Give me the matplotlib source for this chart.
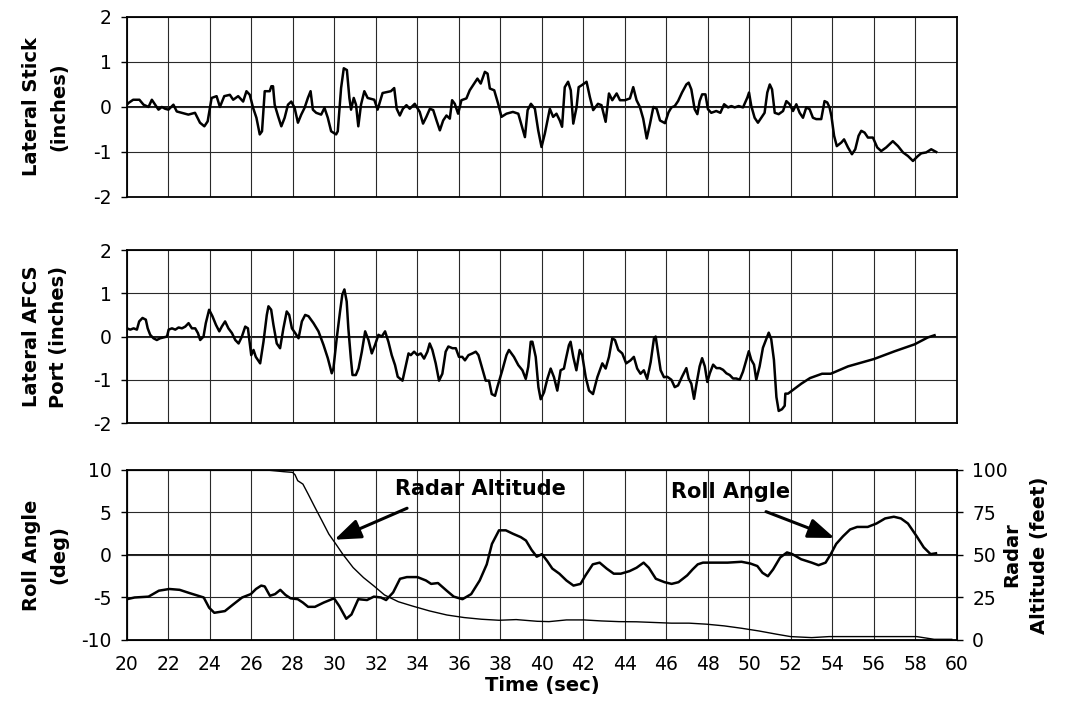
import numpy as np
import matplotlib.pyplot as plt

# lateral stick (inches)
stick_t = [20.0, 20.08, 20.3, 20.6, 20.8, 21.04, 21.2, 21.36, 21.52, 21.68, 21.84, 22.0, 22.24, 22.4,
           22.64, 22.96, 23.28, 23.52, 23.73, 23.89, 24.08, 24.32, 24.48, 24.69, 24.96, 25.12, 25.36,
           25.6, 25.76, 25.92, 26.08, 26.24, 26.4, 26.51, 26.64, 26.88, 26.96, 27.04, 27.12, 27.28,
           27.44, 27.6, 27.76, 27.92, 28.08, 28.24, 28.4, 28.56, 28.72, 28.85, 28.96, 29.12, 29.36,
           29.52, 29.68, 29.84, 30.08, 30.16, 30.32, 30.45, 30.6, 30.72, 30.8, 30.93, 31.04, 31.15,
           31.28, 31.44, 31.6, 31.92, 32.08, 32.32, 32.72, 32.88, 33.0, 33.15, 33.3, 33.47, 33.63,
           33.87, 34.11, 34.27, 34.43, 34.6, 34.76, 34.92, 35.08, 35.24, 35.4, 35.56, 35.67, 35.8,
           35.96, 36.12, 36.36, 36.52, 36.73, 36.89, 37.05, 37.25, 37.38, 37.49, 37.7, 37.89, 38.05,
           38.29, 38.6, 38.86, 39.02, 39.18, 39.31, 39.47, 39.66, 39.82, 39.98, 40.14, 40.38, 40.54,
           40.7, 40.86, 40.97, 41.1, 41.26, 41.39, 41.51, 41.67, 41.77, 41.91, 42.15, 42.31, 42.47,
           42.7, 42.87, 43.07, 43.23, 43.39, 43.6, 43.76, 44.0, 44.24, 44.4, 44.56, 44.72, 44.88,
           45.05, 45.21, 45.37, 45.53, 45.69, 45.93, 46.1, 46.24, 46.4, 46.56, 46.75, 46.96, 47.07,
           47.2, 47.36, 47.49, 47.6, 47.72, 47.88, 48.0, 48.16, 48.4, 48.6, 48.78, 48.97, 49.13,
           49.29, 49.48, 49.69, 49.9, 49.98, 50.09, 50.25, 50.41, 50.57, 50.73, 50.86, 50.98, 51.09,
           51.22, 51.41, 51.62, 51.78, 51.94, 52.1, 52.26, 52.42, 52.58, 52.74, 52.9, 53.06, 53.22,
           53.46, 53.62, 53.75, 53.86, 53.95, 54.08, 54.21, 54.43, 54.56, 54.75, 54.94, 55.1, 55.26,
           55.39, 55.55, 55.71, 55.95, 56.16, 56.35, 56.59, 56.91, 57.16, 57.4, 57.64, 57.88, 58.12,
           58.28, 58.52, 58.76, 59.0]
stick_v = [0.05, 0.09, 0.16, 0.16, 0.05, 0.0, 0.16, 0.05, -0.06, 0.0, -0.04, -0.06, 0.05, -0.1,
           -0.13, -0.17, -0.13, -0.35, -0.43, -0.32, 0.2, 0.24, 0.0, 0.24, 0.27, 0.16, 0.24,
           0.12, 0.35, 0.27, -0.02, -0.24, -0.61, -0.54, 0.35, 0.35, 0.46, 0.46, 0.05, -0.2,
           -0.43, -0.24, 0.05, 0.12, -0.02, -0.35, -0.17, -0.02, 0.2, 0.35, -0.06, -0.13, -0.17,
           -0.02, -0.24, -0.54, -0.61, -0.54, 0.42, 0.86, 0.82, 0.2, -0.06, 0.2, 0.05, -0.43,
           0.05, 0.35, 0.2, 0.16, -0.06, 0.31, 0.35, 0.42, -0.04, -0.19, -0.04, 0.04, -0.04,
           0.07, -0.11, -0.37, -0.22, -0.04, -0.07, -0.3, -0.52, -0.3, -0.19, -0.26, 0.15, 0.07,
           -0.15, 0.15, 0.19, 0.37, 0.52, 0.63, 0.52, 0.78, 0.74, 0.41, 0.37, 0.07, -0.22,
           -0.15, -0.11, -0.15, -0.41, -0.67, -0.07, 0.07, -0.04, -0.52, -0.89, -0.59, -0.04, -0.22,
           -0.15, -0.3, -0.44, 0.44, 0.56, 0.37, -0.37, 0.0, 0.44, 0.48, 0.56, 0.22, -0.07,
           0.07, 0.04, -0.33, 0.3, 0.15, 0.3, 0.15, 0.15, 0.19, 0.44, 0.15, 0.0, -0.26,
           -0.7, -0.37, 0.0, -0.04, -0.3, -0.36, -0.12, -0.01, 0.02, 0.13, 0.32, 0.5, 0.54,
           0.39, -0.05, -0.16, 0.13, 0.28, 0.28, -0.05, -0.13, -0.09, -0.13, 0.06, -0.01, 0.02,
           -0.01, 0.02, -0.01, 0.21, 0.32, 0.02, -0.24, -0.35, -0.24, -0.13, 0.32, 0.5, 0.39,
           -0.13, -0.16, -0.09, 0.13, 0.06, -0.09, 0.06, -0.13, -0.24, -0.01, -0.05, -0.24, -0.27,
           -0.27, 0.13, 0.1, -0.01, -0.2, -0.64, -0.87, -0.79, -0.72, -0.9, -1.05, -0.94, -0.64,
           -0.53, -0.57, -0.68, -0.68, -0.9, -0.98, -0.9, -0.76, -0.87, -1.01, -1.09, -1.2, -1.09,
           -1.03, -1.01, -0.94, -1.0]

# lateral AFCS port (inches)
afcs_t = [20.0, 20.16, 20.32, 20.48, 20.59, 20.75, 20.91, 21.0, 21.12, 21.28, 21.44, 21.6, 21.77,
          21.93, 22.01, 22.17, 22.33, 22.49, 22.65, 22.81, 22.97, 23.13, 23.29, 23.42, 23.53, 23.69,
          23.8, 23.96, 24.12, 24.29, 24.45, 24.57, 24.73, 24.89, 25.06, 25.22, 25.38, 25.54, 25.7,
          25.83, 25.99, 26.1, 26.21, 26.42, 26.58, 26.74, 26.82, 26.95, 27.06, 27.22, 27.38, 27.54,
          27.7, 27.82, 27.95, 28.11, 28.27, 28.43, 28.59, 28.75, 28.99, 29.23, 29.47, 29.68, 29.87,
          29.95, 30.11, 30.27, 30.38, 30.48, 30.59, 30.67, 30.79, 30.87, 31.03, 31.16, 31.32, 31.48,
          31.64, 31.8, 31.96, 32.12, 32.28, 32.44, 32.6, 32.76, 32.92, 33.05, 33.28, 33.41, 33.57,
          33.68, 33.84, 34.0, 34.16, 34.32, 34.48, 34.59, 34.72, 34.88, 35.04, 35.2, 35.36, 35.49,
          35.69, 35.85, 36.0, 36.16, 36.29, 36.46, 36.65, 36.81, 36.94, 37.1, 37.29, 37.45, 37.58,
          37.74, 37.85, 38.09, 38.29, 38.41, 38.65, 38.86, 39.06, 39.22, 39.34, 39.46, 39.54, 39.7,
          39.83, 39.94, 40.1, 40.26, 40.42, 40.58, 40.74, 40.9, 41.06, 41.14, 41.3, 41.38, 41.51,
          41.66, 41.82, 41.94, 42.11, 42.27, 42.46, 42.67, 42.91, 43.07, 43.23, 43.39, 43.52, 43.68,
          43.87, 44.06, 44.27, 44.43, 44.59, 44.75, 44.91, 45.07, 45.24, 45.4, 45.48, 45.6, 45.72,
          45.88, 46.04, 46.24, 46.4, 46.56, 46.75, 46.96, 47.07, 47.2, 47.33, 47.45, 47.6, 47.72,
          47.85, 47.97, 48.09, 48.25, 48.41, 48.57, 48.73, 48.89, 49.05, 49.21, 49.37, 49.53, 49.69,
          49.85, 49.97, 50.09, 50.22, 50.33, 50.49, 50.65, 50.81, 50.93, 51.05, 51.18, 51.3, 51.41,
          51.57, 51.7, 51.73, 51.86, 52.5, 52.92, 53.5, 53.92, 54.75, 56.0, 57.0, 57.96, 58.6, 58.92]
afcs_v = [0.19, 0.16, 0.19, 0.16, 0.35, 0.43, 0.39, 0.19, 0.04, -0.04, -0.08, -0.04, -0.02,
          0.0, 0.16, 0.19, 0.16, 0.21, 0.19, 0.23, 0.31, 0.19, 0.19, 0.08, -0.08, 0.0,
          0.31, 0.62, 0.47, 0.27, 0.12, 0.23, 0.35, 0.19, 0.08, -0.08, -0.16, 0.0, 0.23,
          0.19, -0.43, -0.31, -0.47, -0.62, -0.12, 0.5, 0.7, 0.62, 0.27, -0.16, -0.27, 0.19,
          0.58, 0.5, 0.19, 0.08, -0.04, 0.35, 0.5, 0.47, 0.31, 0.12, -0.19, -0.5, -0.85,
          -0.74, -0.04, 0.58, 0.97, 1.09, 0.81, 0.19, -0.5, -0.89, -0.89, -0.74, -0.35, 0.12,
          -0.08, -0.39, -0.19, 0.04, 0.0, 0.12, -0.12, -0.43, -0.66, -0.93, -1.02, -0.74, -0.39,
          -0.43, -0.35, -0.43, -0.39, -0.51, -0.35, -0.16, -0.31, -0.62, -1.02, -0.86, -0.35, -0.23,
          -0.27, -0.27, -0.47, -0.47, -0.55, -0.43, -0.39, -0.35, -0.43, -0.7, -1.02, -1.02, -1.33,
          -1.37, -1.17, -0.78, -0.43, -0.31, -0.47, -0.66, -0.78, -0.98, -0.7, -0.12, -0.12, -0.47,
          -1.17, -1.45, -1.29, -0.98, -0.74, -0.94, -1.25, -0.78, -0.74, -0.55, -0.2, -0.12, -0.47,
          -0.78, -0.31, -0.43, -0.94, -1.25, -1.33, -0.94, -0.62, -0.74, -0.47, -0.04, -0.08, -0.31,
          -0.39, -0.62, -0.55, -0.47, -0.74, -0.86, -0.78, -0.98, -0.59, -0.04, 0.0, -0.39, -0.78,
          -0.94, -0.93, -1.0, -1.17, -1.13, -0.93, -0.73, -0.97, -1.09, -1.44, -1.09, -0.69, -0.5,
          -0.69, -1.05, -0.85, -0.65, -0.73, -0.73, -0.77, -0.85, -0.89, -0.97, -0.97, -1.0, -0.81,
          -0.54, -0.34, -0.54, -0.65, -1.0, -0.69, -0.26, -0.06, 0.09, -0.06, -0.54, -1.4, -1.72,
          -1.68, -1.6, -1.32, -1.32, -1.09, -0.96, -0.86, -0.86, -0.69, -0.52, -0.34, -0.18, -0.02, 0.03]

# roll angle (deg)
roll_t = [20.0, 20.37, 21.04, 21.54, 22.04, 22.54, 23.04, 23.7, 23.96, 24.21, 24.72, 25.13, 25.55,
          25.97, 26.22, 26.47, 26.64, 26.89, 27.14, 27.39, 27.64, 27.89, 28.23, 28.48, 28.73, 29.06,
          29.48, 29.98, 30.23, 30.57, 30.82, 31.15, 31.57, 31.9, 32.24, 32.49, 32.83, 33.16, 33.49,
          34.0, 34.41, 34.66, 34.99, 35.41, 35.75, 36.17, 36.59, 37.0, 37.34, 37.59, 37.93, 38.26,
          38.6, 38.98, 39.23, 39.5, 39.75, 40.0, 40.25, 40.5, 40.84, 41.18, 41.52, 41.86, 42.1,
          42.45, 42.78, 43.12, 43.46, 43.8, 44.22, 44.56, 44.9, 45.15, 45.49, 45.91, 46.25, 46.58,
          47.0, 47.26, 47.51, 47.76, 48.27, 48.95, 49.62, 50.04, 50.38, 50.63, 50.89, 51.14, 51.48,
          51.81, 52.07, 52.49, 53.0, 53.33, 53.67, 53.92, 54.18, 54.51, 54.85, 55.19, 55.7, 56.12,
          56.54, 56.96, 57.3, 57.64, 58.06, 58.4, 58.73, 58.99]
roll_v = [-5.2, -5.0, -4.9, -4.2, -4.0, -4.1, -4.5, -5.0, -6.2, -6.8, -6.6, -5.8, -5.0,
          -4.6, -4.0, -3.6, -3.7, -4.8, -4.6, -4.1, -4.7, -5.1, -5.2, -5.6, -6.1, -6.1,
          -5.6, -5.1, -6.0, -7.5, -7.0, -5.2, -5.3, -4.9, -5.0, -5.3, -4.4, -2.8, -2.6,
          -2.6, -3.0, -3.4, -3.3, -4.2, -4.9, -5.2, -4.6, -3.0, -1.1, 1.3, 2.9, 2.9,
          2.5, 2.1, 1.7, 0.6, -0.2, 0.1, -0.7, -1.6, -2.2, -3.0, -3.6, -3.4, -2.4,
          -1.1, -0.9, -1.6, -2.2, -2.2, -1.9, -1.5, -0.9, -1.5, -2.8, -3.2, -3.4, -3.2,
          -2.4, -1.7, -1.1, -0.9, -0.9, -0.9, -0.8, -1.0, -1.3, -2.1, -2.5, -1.7, -0.3,
          0.3, 0.1, -0.5, -0.9, -1.2, -0.9, 0.1, 1.3, 2.2, 3.0, 3.3, 3.3, 3.7,
          4.3, 4.5, 4.3, 3.7, 2.2, 0.9, 0.1, 0.2]

# radar altitude (feet)
alt_t = [26.72, 27.56, 27.98, 28.1, 28.23, 28.48, 28.73, 29.06, 29.4, 29.73, 30.07, 30.4, 30.9,
         31.4, 31.9, 32.41, 33.08, 33.75, 34.58, 35.42, 36.25, 37.09, 37.93, 38.76, 39.77, 40.34,
         41.18, 42.03, 42.87, 43.71, 44.56, 45.4, 46.24, 47.09, 47.93, 48.78, 49.62, 50.46, 51.31,
         51.98, 53.0, 53.84, 54.68, 55.53, 56.37, 57.22, 58.06, 58.9, 59.75]
alt_v = [100, 99, 98.6, 97.2, 93.7, 91.7, 85.9, 78.0, 70.1, 62.3, 56.4, 50.5, 42.6,
         36.7, 31.8, 26.5, 22.5, 20.0, 17.1, 14.7, 13.2, 12.2, 11.6, 12.0, 11.0, 10.8,
         11.8, 11.8, 11.2, 10.8, 10.7, 10.3, 9.9, 9.9, 9.3, 8.3, 6.9, 5.3, 3.4,
         2.0, 1.4, 2.0, 2.0, 2.0, 2.0, 2.0, 2.0, 0.4, 0.4]

time_ticks = list(range(20, 61, 2))

plt.rcParams['font.family'] = 'DejaVu Sans'
plt.rcParams['axes.unicode_minus'] = False

fig = plt.figure(figsize=(10.74, 7.06), dpi=100)
left, width = 0.1182, 0.7728
ax1 = fig.add_axes([left, 0.7210, width, 0.2550])
ax2 = fig.add_axes([left, 0.4008, width, 0.2450])
ax3 = fig.add_axes([left, 0.0935, width, 0.2408])
ax4 = ax3.twinx()


def style(ax, ylim, yticks, ylabel):
    ax.set_xlim(20, 60)
    ax.set_ylim(*ylim)
    ax.set_xticks(time_ticks)
    ax.set_yticks(yticks)
    ax.grid(True, color='#2a2a2a', lw=0.8)
    ax.axhline(0, color='black', lw=1.3, zorder=1.5)
    ax.tick_params(axis='y', direction='out', length=4, width=1, pad=7, labelsize=13.5)
    ax.tick_params(axis='x', length=0, labelsize=13.5)
    for s in ax.spines.values():
        s.set_linewidth(1.3)
    ax.set_ylabel(ylabel, fontsize=14, fontweight='bold', linespacing=1.55)
    ax.yaxis.set_label_coords(-0.071, 0.5)


style(ax1, (-2, 2), [-2, -1, 0, 1, 2], 'Lateral Stick\n(inches)')
style(ax2, (-2, 2), [-2, -1, 0, 1, 2], 'Lateral AFCS\nPort (inches)')
style(ax3, (-10, 10), [-10, -5, 0, 5, 10], 'Roll Angle\n(deg)')
ax1.tick_params(labelbottom=False)
ax2.tick_params(labelbottom=False)
ax3.tick_params(axis='x', pad=11)

ax1.plot(stick_t, stick_v, color='black', lw=1.8, zorder=3)
ax2.plot(afcs_t, afcs_v, color='black', lw=1.8, zorder=3)
ax3.plot(roll_t, roll_v, color='black', lw=1.8, zorder=3)

ax4.set_ylim(0, 100)
ax4.set_yticks([0, 25, 50, 75, 100])
ax4.tick_params(axis='y', direction='out', length=4, width=1, pad=7, labelsize=13.5)
ax4.plot(alt_t, alt_v, color='black', lw=1.0)
ax4.set_ylabel('Radar\nAltitude (feet)', fontsize=14, fontweight='bold', linespacing=1.55)
ax4.yaxis.set_label_coords(1.055, 0.5)

ax3.set_xlabel('Time (sec)', fontsize=14, fontweight='bold', labelpad=1)

arrow = dict(arrowstyle='-|>,head_length=0.8,head_width=0.3', color='black', lw=2.2,
             mutation_scale=20, shrinkA=0, shrinkB=0)
ax3.annotate('', xy=(30.0, 1.8), xytext=(33.5, 5.5), arrowprops=arrow, zorder=4)
ax3.text(32.9, 7.8, 'Radar Altitude', fontsize=15, fontweight='bold', ha='left', va='center')
ax3.annotate('', xy=(54.1, 2.0), xytext=(50.8, 5.1), arrowprops=arrow, zorder=4)
ax3.text(46.2, 7.4, 'Roll Angle', fontsize=15, fontweight='bold', ha='left', va='center')

fig.savefig('out.png', dpi=100)
